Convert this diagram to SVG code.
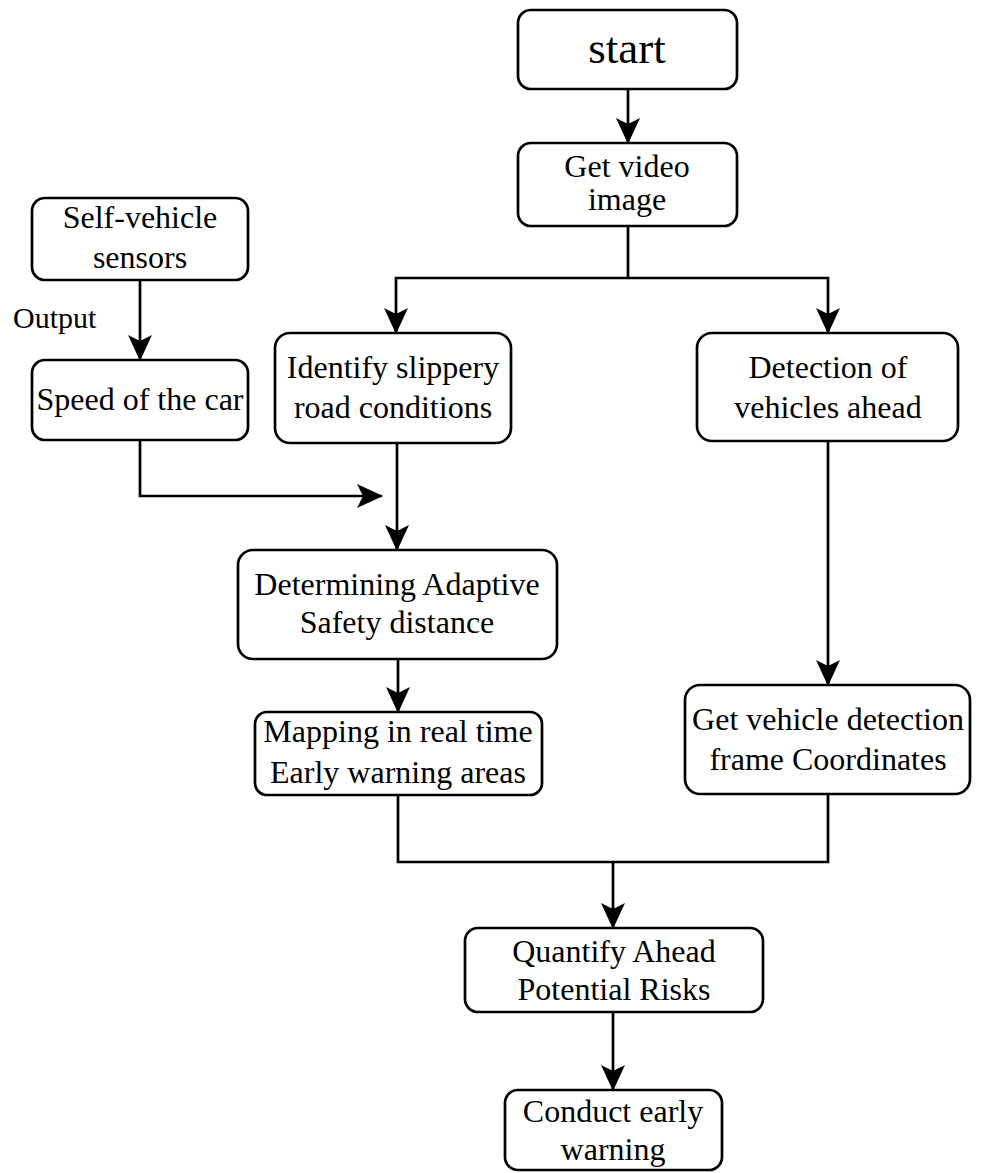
<svg xmlns="http://www.w3.org/2000/svg" width="982" height="1173" viewBox="0 0 982 1173">
<style>
.box{fill:#fff;stroke:#000;stroke-width:2.7}
.t{font-family:"Liberation Serif","Times New Roman",serif;font-size:32px;fill:#000;text-anchor:middle}
.c{fill:none;stroke:#000;stroke-width:2.7}
</style>
<defs>
<marker id="ah" viewBox="0 0 26 24" refX="25" refY="12" markerWidth="26" markerHeight="24" orient="auto" markerUnits="userSpaceOnUse">
<path d="M0,0 L26,12 L0,24 L6,12 Z" fill="#000"/>
</marker>
</defs>
<rect width="982" height="1173" fill="#fff"/>
<g id="connectors">
<path class="c" d="M628,90 V143" marker-end="url(#ah)"/>
<path class="c" d="M628,226 V278 H396 V333" marker-end="url(#ah)"/>
<path class="c" d="M628,278 H828 V333" marker-end="url(#ah)"/>
<path class="c" d="M140,280 V360" marker-end="url(#ah)"/>
<path class="c" d="M140,440 V496 H382" marker-end="url(#ah)"/>
<path class="c" d="M397,443 V550" marker-end="url(#ah)"/>
<path class="c" d="M398,659 V712" marker-end="url(#ah)"/>
<path class="c" d="M828,441 V685" marker-end="url(#ah)"/>
<path class="c" d="M398,795 V862 H828 V794"/>
<path class="c" d="M613,862 V928" marker-end="url(#ah)"/>
<path class="c" d="M613,1012 V1090" marker-end="url(#ah)"/>
</g>
<g id="start"><rect class="box" x="518" y="10" width="219" height="79" rx="13"/><text class="t" x="627" y="63" style="font-size:45px">start</text></g>
<g id="get-video"><rect class="box" x="518" y="143" width="219" height="83" rx="13"/><text class="t" x="627" y="177">Get video</text><text class="t" x="627" y="210">image</text></g>
<g id="self-vehicle"><rect class="box" x="32" y="198" width="216" height="82" rx="13"/><text class="t" x="140" y="228">Self-vehicle</text><text class="t" x="140" y="268">sensors</text></g>
<g id="output-label"><text class="t" x="13" y="328" style="text-anchor:start;font-size:30px">Output</text></g>
<g id="speed"><rect class="box" x="32" y="360" width="216" height="80" rx="13"/><text class="t" x="140" y="410">Speed of the car</text></g>
<g id="identify"><rect class="box" x="275" y="333" width="236" height="110" rx="15"/><text class="t" x="393" y="378">Identify slippery</text><text class="t" x="393" y="418">road conditions</text></g>
<g id="detection"><rect class="box" x="697" y="333" width="261" height="108" rx="15"/><text class="t" x="828" y="378">Detection of</text><text class="t" x="828" y="418">vehicles ahead</text></g>
<g id="determining"><rect class="box" x="238" y="550" width="319" height="109" rx="15"/><text class="t" x="397" y="595">Determining Adaptive</text><text class="t" x="397" y="633">Safety distance</text></g>
<g id="mapping"><rect class="box" x="255" y="712" width="287" height="83" rx="12"/><text class="t" x="398" y="742">Mapping in real time</text><text class="t" x="398" y="783">Early warning areas</text></g>
<g id="get-vehicle"><rect class="box" x="685" y="685" width="285" height="109" rx="15"/><text class="t" x="828" y="730">Get vehicle detection</text><text class="t" x="828" y="770">frame Coordinates</text></g>
<g id="quantify"><rect class="box" x="465" y="928" width="298" height="84" rx="13"/><text class="t" x="614" y="962">Quantify Ahead</text><text class="t" x="614" y="1000">Potential Risks</text></g>
<g id="conduct"><rect class="box" x="505" y="1090" width="217" height="80" rx="13"/><text class="t" x="613" y="1122">Conduct early</text><text class="t" x="613" y="1160">warning</text></g>
</svg>
